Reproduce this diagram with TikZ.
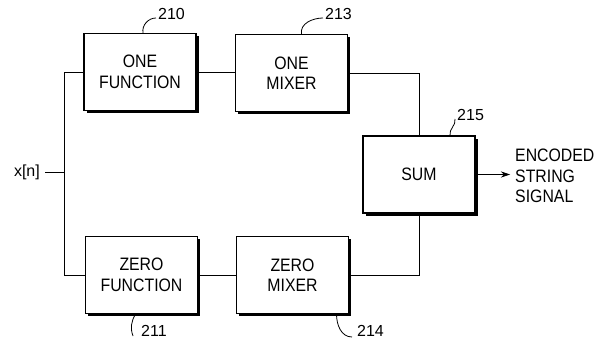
\documentclass[tikz,border=0pt]{standalone}
\usepackage{fontspec}
\setmainfont{Liberation Sans}
\newfontfamily\boxfont[FakeStretch=0.88]{Liberation Sans}
\usetikzlibrary{shadows,arrows.meta}
\begin{document}
\begin{tikzpicture}[x=1pt,y=1pt,
  blk/.style={draw, line width=1.1pt, fill=white, minimum width=112pt, minimum height=77pt,
    inner sep=0pt, align=center, font=\boxfont\fontsize{18}{20.5}\selectfont,
    drop shadow={shadow xshift=2.6pt, shadow yshift=-2.6pt, fill=black, opacity=1}},
  lbl/.style={font=\fontsize{16}{18}\selectfont, inner sep=0pt},
  wire/.style={line width=0.8pt},
  lead/.style={line width=0.8pt}]
\useasboundingbox (0,0) rectangle (601,343);

\node[blk] (of) at (140,271) {ONE\\FUNCTION};
\node[blk] (om) at (291.5,270) {ONE\\MIXER};
\node[blk] (sum) at (419,168.5) {SUM};
\node[blk] (zf) at (141.5,68) {ZERO\\FUNCTION};
\node[blk] (zm) at (292.5,68) {ZERO\\MIXER};

\node[lbl, anchor=east] (xn) at (40,171) {x[n]};
\coordinate (split) at (64,171);
\node[align=left, inner sep=0pt, font=\boxfont\fontsize{18}{20.5}\selectfont, anchor=west] (out) at (515,167) {ENCODED\\STRING\\SIGNAL};

\draw[wire] ([xshift=5pt]xn.east) -- (split);
\draw[wire] (of.west) -| (split);
\draw[wire] (zf.west) -| (split);
\draw[wire] (of.east) -- (om.west |- of.east);
\draw[wire] (zf.east) -- (zm.west |- zf.east);
\draw[wire] (om.east) -| (sum.north);
\draw[wire] (zm.east) -| (sum.south);
\draw[wire, -{Stealth[length=9pt,width=6pt]}] (sum.east) -- ([xshift=-5pt]out.west |- sum.east);

\node[lbl, anchor=west] (l210) at (158,329) {210};
\node[lbl, anchor=west] (l213) at (325,329) {213};
\node[lbl, anchor=west] (l215) at (457,228) {215};
\node[lbl, anchor=west] (l211) at (141,12) {211};
\node[lbl, anchor=west] (l214) at (357,12) {214};

\draw[lead] ([xshift=3pt]of.north) to[out=100,in=180] ([xshift=-2pt,yshift=-4pt]l210.west);
\draw[lead] ([xshift=10pt]om.north) to[out=100,in=180] ([xshift=-2pt,yshift=-4pt]l213.west);
\draw[lead] ([xshift=31pt]sum.north) to[out=100,in=-80] ([xshift=-2pt,yshift=-4pt]l215.west);
\draw[lead] ([xshift=-6pt]zf.south) to[out=-120,in=110] ([xshift=-8pt,yshift=-5pt]l211.west);
\draw[lead] ([xshift=44pt]zm.south) to[out=-90,in=180] ([xshift=-5pt,yshift=-6pt]l214.west);
\end{tikzpicture}
\end{document}
